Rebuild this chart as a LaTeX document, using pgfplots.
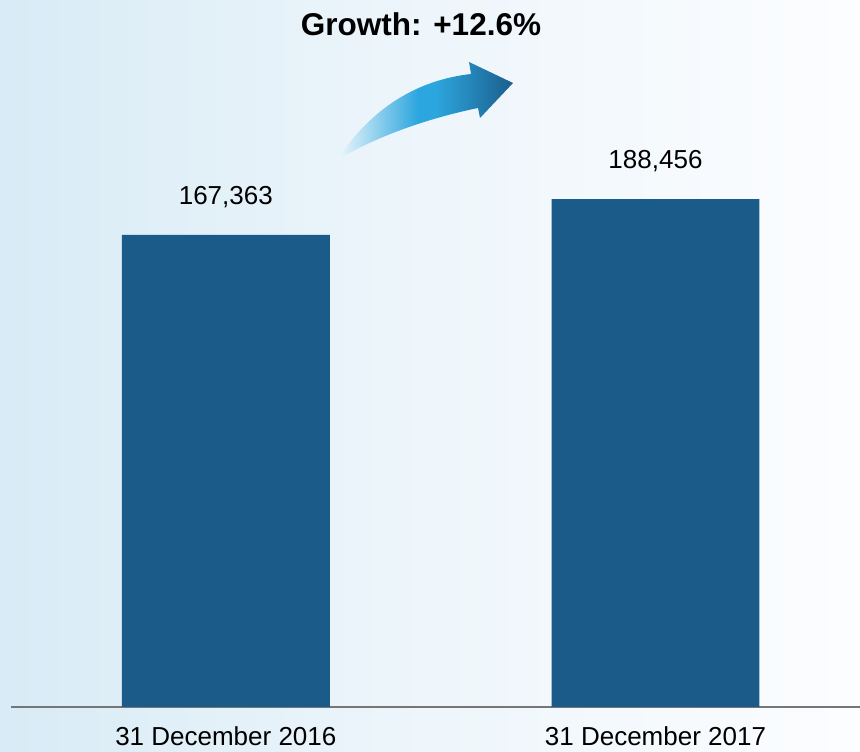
\documentclass[border=0pt]{standalone}
\usepackage{pgfplots}
\pgfplotsset{compat=1.18}
\usepackage{fontspec}
\setmainfont{Liberation Sans}
\definecolor{barblue}{RGB}{26,91,138}
\definecolor{bgleft}{RGB}{216,235,246}
\definecolor{bgmid}{RGB}{238,246,251}
\definecolor{bgright}{RGB}{252,253,255}
\definecolor{axgray}{RGB}{118,118,118}
\definecolor{arrowlight}{RGB}{240,248,253}
\definecolor{arrowmid}{RGB}{44,166,222}
\definecolor{arrowdark}{RGB}{27,94,140}
\pgfdeclarehorizontalshading{arrowsh}{100bp}{color(0bp)=(arrowlight); color(25bp)=(arrowlight); color(48bp)=(arrowmid); color(53bp)=(arrowmid); color(75bp)=(arrowdark); color(100bp)=(arrowdark)}
\begin{document}
\begin{tikzpicture}[x=1pt,y=1pt]
\shade[left color=bgleft, right color=bgright, middle color=bgmid] (0,0) rectangle (860,752);
\path[use as bounding box] (0,0) rectangle (860,752);
\begin{axis}[
  at={(11pt,45pt)}, anchor=south west,
  width=849pt, height=707pt, scale only axis,
  xmin=-0.5, xmax=1.476, ymin=0, ymax=415400,
  axis x line*=bottom, axis y line=none,
  x axis line style={draw=axgray, line width=2pt, -},
  xtick={0,1}, xticklabels={31 December 2016, 31 December 2017},
  ytick=\empty, major tick length=0pt,
  xticklabel style={font=\fontsize{26}{30}\selectfont, anchor=base, yshift=-39pt, inner sep=0pt},
  clip=false,
]
\addplot[ybar, bar width=0.484, fill=barblue, draw=none,
  y filter/.expression={y+110000},
  point meta=explicit symbolic,
  nodes near coords,
  nodes near coords style={font=\fontsize{26}{30}\selectfont, yshift=30pt, inner sep=0pt, text depth=0pt, text=black}]
  table[meta=label] {
  x y label
  0 167363 167,363
  1 188456 188,456
  };
\end{axis}
\node[font=\bfseries\fontsize{31.5}{36}\selectfont, anchor=base] at (421,716) {Growth: +12.6\%};
\shade[shading=arrowsh]
 (337,592) .. controls (372,645) and (418,672) .. (471,678)
 -- (469,690) -- (513,669) -- (480,634) -- (478,644)
 .. controls (420,632) and (370,612) .. cycle;
\end{tikzpicture}
\end{document}
